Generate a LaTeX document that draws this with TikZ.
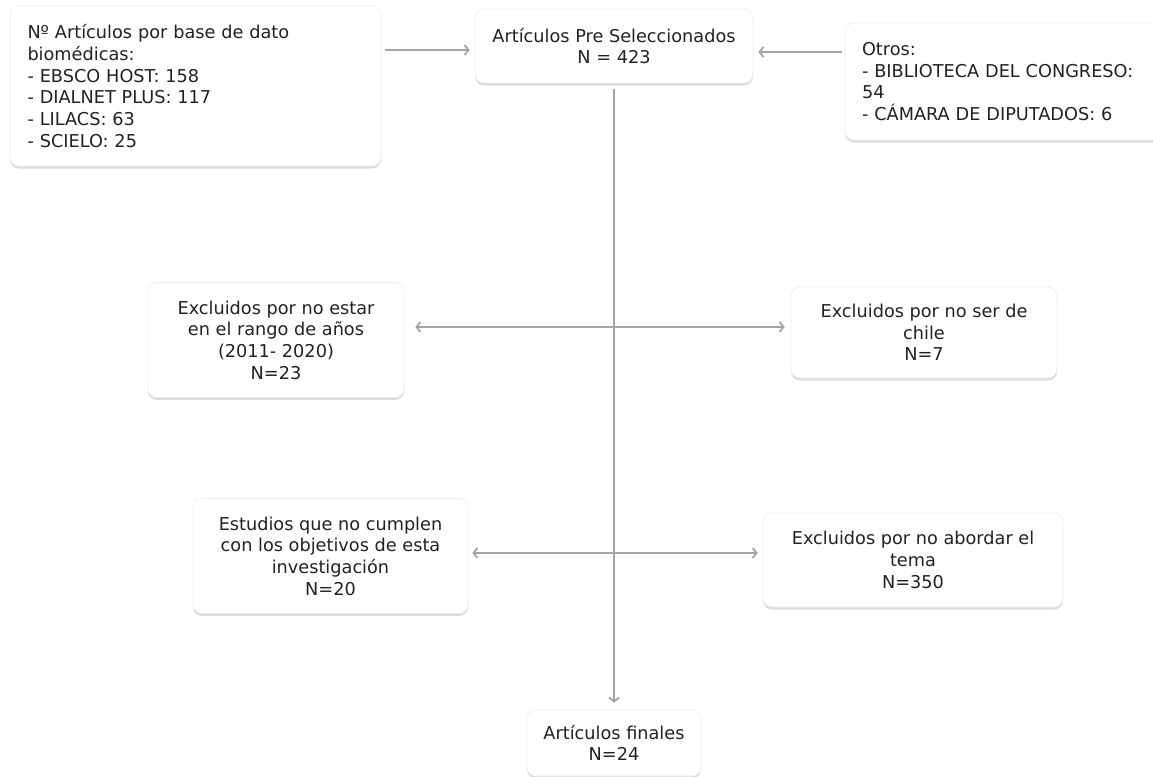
\documentclass[tikz,border=0pt]{standalone}
\usepackage{fontspec}
\setmainfont{DejaVu Sans}
\usetikzlibrary{arrows.meta,shadows}
\definecolor{txt}{HTML}{222222}
\definecolor{arrowgray}{HTML}{A5A5A5}
\definecolor{boxedge}{HTML}{EDEDED}
\begin{document}
\begin{tikzpicture}[x=1pt,y=-1pt,
  box/.style={draw=boxedge, line width=0.6pt, fill=white, rounded corners=9pt,
    text=txt, font=\fontsize{17.7}{21.7}\selectfont, inner sep=0pt,
    drop shadow={shadow xshift=0pt, shadow yshift=-2.5pt, opacity=0.3, fill=black!45}},
  arr/.style={draw=arrowgray, line width=1.8pt, -{Straight Barb[length=4pt,width=10pt]}}]
\useasboundingbox[fill=white] (0,0) rectangle (1153,776);

\node[box, align=left, text width=336pt, minimum width=371pt, minimum height=160pt] (b1) at (195.5,86)
  {Nº Artículos por base de dato\\biomédicas:\\- EBSCO HOST: 158\\- DIALNET PLUS: 117\\- LILACS: 63\\- SCIELO: 25};
\node[box, align=center, minimum width=278pt, minimum height=74pt] (b2) at (614,46)
  {Artículos Pre Seleccionados\\N = 423};
\node[box, align=left, text width=286pt, minimum width=320pt, minimum height=117pt] (b3) at (1005,81.5)
  {Otros:\\- BIBLIOTECA DEL CONGRESO:\\54\\- CÁMARA DE DIPUTADOS: 6};
\node[box, align=center, minimum width=256pt, minimum height=115pt] (b4) at (276,340)
  {Excluidos por no estar\\en el rango de años\\(2011- 2020)\\N=23};
\node[box, align=center, minimum width=266pt, minimum height=91pt] (b5) at (924,332.5)
  {Excluidos por no ser de\\chile\\N=7};
\node[box, align=center, minimum width=275pt, minimum height=115pt] (b6) at (330.5,556)
  {Estudios que no cumplen\\con los objetivos de esta\\investigación\\N=20};
\node[box, align=center, minimum width=300pt, minimum height=94pt] (b7) at (913,560)
  {Excluidos por no abordar el\\tema\\N=350};
\node[box, align=center, minimum width=174pt, minimum height=66pt] (b8) at (614,743)
  {Artículos finales\\N=24};

\coordinate (r0) at (614,50);
\coordinate (r0b) at (614,52);
\coordinate (r1) at (614,327);
\coordinate (r2) at (614,553);

\draw[arr, shorten <=4pt, shorten >=5pt] (b1.east |- r0) -- (b2.west |- r0);
\draw[arr, shorten <=3pt, shorten >=5pt] (b3.west |- r0b) -- (b2.east |- r0b);
\draw[arr, shorten <=6pt, shorten >=7pt] (b2.south) -- (b8.north);
\draw[arr, shorten >=11pt] (r1) -- (b4.east |- r1);
\draw[arr, shorten >=6pt] (r1) -- (b5.west |- r1);
\draw[arr, shorten >=4pt] (r2) -- (b6.east |- r2);
\draw[arr, shorten >=5pt] (r2) -- (b7.west |- r2);
\end{tikzpicture}
\end{document}
